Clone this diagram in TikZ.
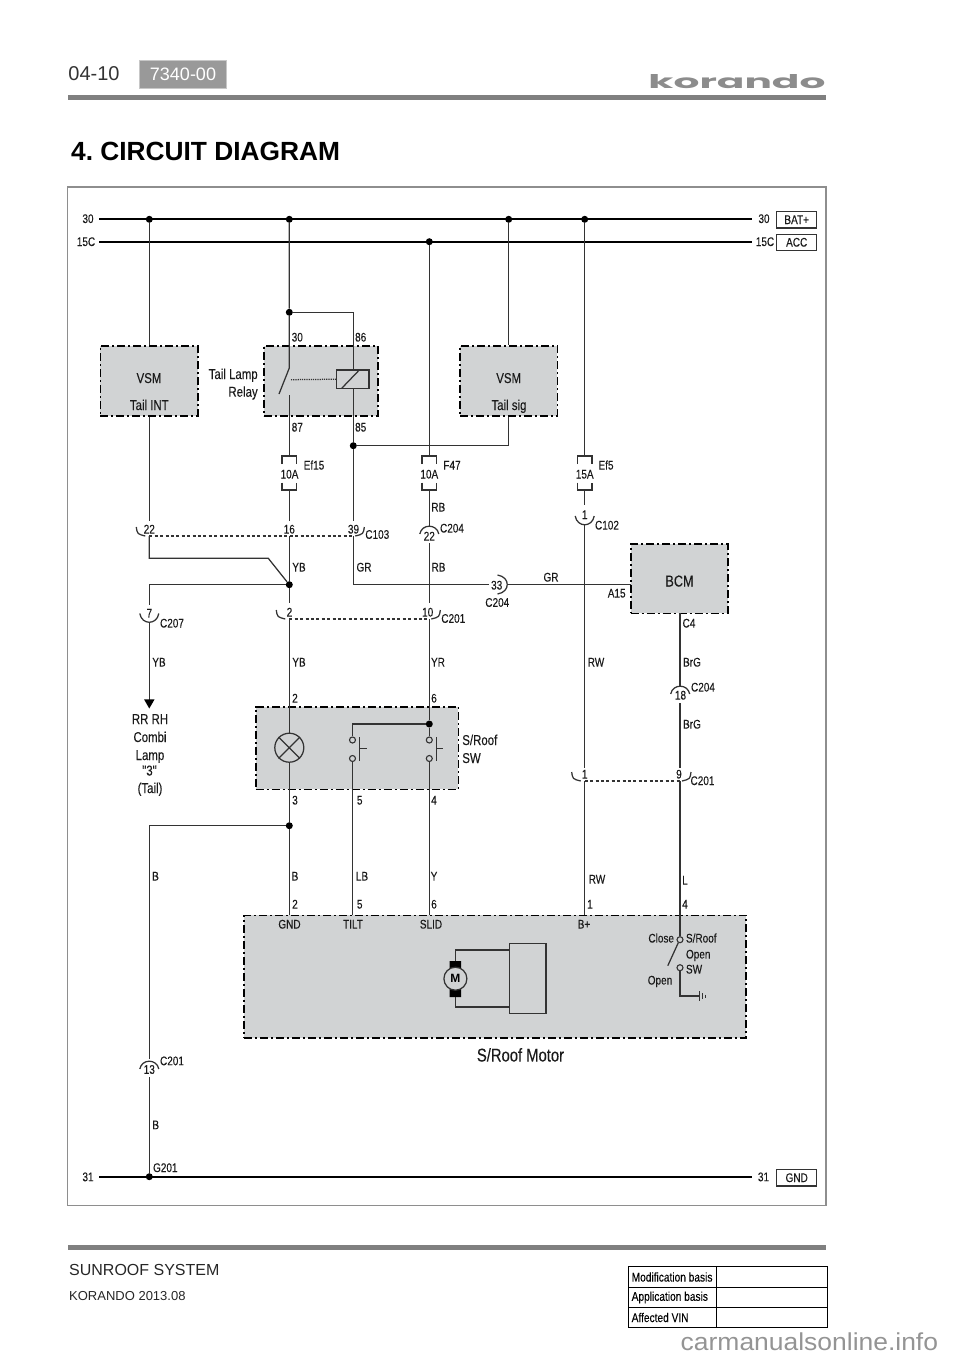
\documentclass[tikz,border=0pt]{standalone}
\usepackage{fontspec}
\usepackage{graphicx}
\setmainfont{Liberation Sans}
\newfontfamily\cf[FakeStretch=0.8,FakeBold=0.12]{Liberation Sans}
\newfontfamily\wf[FakeStretch=1.08]{Liberation Sans}
\newfontfamily\lf{Poppins}
\frenchspacing
\definecolor{modg}{HTML}{D1D3D4}
\definecolor{wirec}{HTML}{333333}
\definecolor{framec}{HTML}{8E8E8E}
\definecolor{rulec}{HTML}{808080}
\definecolor{txtc}{HTML}{1A1A1A}
\newcommand\fsm{\cf\fontsize{12.5}{13}\selectfont}
\newcommand\fmd{\cf\fontsize{14.3}{15}\selectfont}
\newcommand\fbg{\cf\fontsize{15.8}{16}\selectfont}
\newcount\lblno
\newcommand\lb[4][]{\global\advance\lblno by 1\relax
  \node[lbl,#1] (t\the\lblno) at (#2,#3) {#4};}
\newcommand\mdl[4][]{\global\advance\lblno by 1\relax
  \node[lbl,font=\fmd,text height=10pt,#1] (t\the\lblno) at (#2,#3) {#4};}
% full connector cup: x, rim y, depth (negative = opens downward)
\newcommand\conncup[3]{\draw[wire] ({#1-9.5},#2) .. controls ({#1-7.5},{#2+#3*1.3}) and ({#1+7.5},{#2+#3*1.3}) .. ({#1+9.5},#2);}
% quarter arcs of the connector, ending on the dashed line
\newcommand\connl[2]{\draw[wire] ({#1-13},{#2-9}) .. controls ({#1-12},{#2-2}) .. ({#1-4},#2);}
\newcommand\connr[2]{\draw[wire] ({#1+11},{#2-9}) .. controls ({#1+10},{#2-2}) .. ({#1+2},#2);}
\newcommand\fusebr[2]{\draw[wire] ({#1-7.3},464) -- ({#1-7.3},456) -- ({#1+7.3},456) -- ({#1+7.3},464)
   ({#1-7.3},482.7) -- ({#1-7.3},490) -- ({#1+7.3},490) -- ({#1+7.3},482.7);}
\tikzset{
  wire/.style={draw=wirec,line width=1.25pt},
  bus/.style={draw=black,line width=1.9pt},
  dot/.style={circle,fill=black,draw=none,minimum size=7pt,inner sep=0pt},
  module/.style={draw=black,fill=modg,line width=1.6pt,dash pattern=on 8pt off 3pt on 2pt off 3pt,inner sep=0pt},
  lbl/.style={inner sep=0pt,outer sep=0pt,font=\fsm,text=txtc,text height=9pt,text depth=0pt},
  contact/.style={circle,draw=wirec,line width=1.1pt,fill=modg,minimum size=6pt,inner sep=0pt},
  tagbox/.style={draw=wirec,line width=1.1pt,fill=white,inner sep=0pt,font=\fsm,text=txtc,minimum width=40pt,minimum height=16.5pt},
  dashw/.style={draw=wirec,line width=1.1pt,dash pattern=on 3pt off 2.4pt},
}
\begin{document}
\begin{tikzpicture}[x=1pt,y=-1pt]
\useasboundingbox (0,0) rectangle (960,1358);
% ---------- page furniture ----------
\fill[rulec] (68,95) rectangle (826,100);
\fill[rulec] (68,1245) rectangle (826,1250);
\node[inner sep=0pt,anchor=center,font=\fontsize{20}{22}\selectfont,text=black!80] (pageno) at (94,74) {04-10};
\node[draw=black!22,fill=black!40,line width=1pt,minimum width=87pt,minimum height=28pt,inner sep=0pt,text=white,font=\fontsize{18}{20}\selectfont] (code) at (183,74) {7340-00};
\node[inner sep=0pt,text=black!45] (logo) at (737,81.5) {\resizebox{177pt}{14pt}{\lf\bfseries korando}};
\node[inner sep=0pt,anchor=west,font=\bfseries\fontsize{26.3}{28}\selectfont,text=black] (title) at (71,151) {4. CIRCUIT DIAGRAM};
\draw[framec,line width=1.4pt,fill=white] (67.5,187) rectangle (826,1205.7);
\node[inner sep=0pt,anchor=west,font=\fontsize{16}{18}\selectfont,text=black!85] (sys) at (69,1270) {SUNROOF SYSTEM};
\node[inner sep=0pt,anchor=west,font=\fontsize{13}{15}\selectfont,text=black!85] (ver) at (69,1296) {KORANDO 2013.08};
\draw[black,line width=1pt] (628.4,1266.7) rectangle (827,1327.7)
  (628.4,1287.3) -- (827,1287.3) (628.4,1307.3) -- (827,1307.3) (716,1266.7) -- (716,1327.7);
\node[inner sep=0pt,anchor=west,font=\cf\fontsize{12.7}{14}\selectfont,text=black] (tb1) at (631.5,1277) {Modification basis};
\node[inner sep=0pt,anchor=west,font=\cf\fontsize{12.7}{14}\selectfont,text=black] (tb2) at (631.5,1297.5) {Application basis};
\node[inner sep=0pt,anchor=west,font=\cf\fontsize{12.7}{14}\selectfont,text=black] (tb3) at (631.5,1317.5) {Affected VIN};
\node[inner sep=0pt,anchor=west,font=\wf\fontsize{24.5}{26}\selectfont,text=black!42] (wm) at (680.5,1342) {carmanualsonline.info};
% ---------- modules ----------
\node[module,minimum width=97.4pt,minimum height=70pt] (vsmA) at (149,381) {};
\node[module,minimum width=114pt,minimum height=70pt] (relay) at (321,381) {};
\node[module,minimum width=97.4pt,minimum height=70pt] (vsmB) at (508.7,381) {};
\node[module,minimum width=97pt,minimum height=69.3pt] (bcm) at (679.2,578.7) {};
\node[module,minimum width=202.6pt,minimum height=82.6pt] (srsw) at (357,748) {};
\node[module,minimum width=502pt,minimum height=122.6pt] (motorbox) at (495,976.7) {};
% ---------- named points ----------
\coordinate (b30L) at (99,219.3); \coordinate (b30R) at (751.7,219.3);
\coordinate (b15L) at (99,241.7); \coordinate (b15R) at (751.7,241.7);
\coordinate (b31L) at (99,1176.7); \coordinate (b31R) at (751.7,1176.7);
\node[dot] (d1) at (149.3,219.3) {};
\node[dot] (d2) at (289.3,219.3) {};
\node[dot] (d3) at (508.7,219.3) {};
\node[dot] (d4) at (584.7,219.3) {};
\node[dot] (d5) at (429.3,241.7) {};
\node[dot] (d6) at (289.3,312.3) {};
\node[dot] (d7) at (353.3,445.7) {};
\node[dot] (d8) at (289.3,584.7) {};
\node[dot] (d9) at (429.3,724) {};
\node[dot] (d10) at (289.3,825.7) {};
\node[dot] (d11) at (149.3,1176.7) {};
% ---------- buses ----------
\draw[bus] (b30L) -- (b30R);
\draw[bus] (b15L) -- (b15R);
\draw[bus] (b31L) -- (b31R);
% ---------- relay internals ----------
\node[draw=wirec,line width=1.25pt,fill=modg,minimum width=32.3pt,minimum height=18.3pt,inner sep=0pt] (coil) at (352.8,379.2) {};
\draw[wire] (341.7,388.3) -- (359.3,370);
\coordinate (swT) at (289.3,368); \coordinate (swB) at (279,394); \coordinate (sw87) at (289.3,395);
\draw[wire,dash pattern=on 1.2pt off 1pt] (291,379.7) -- (coil.west);
% ---------- lamp + sw ----------
\node[circle,draw=wirec,line width=1.25pt,fill=modg,minimum size=29pt,inner sep=0pt] (lamp) at (289.3,747.7) {};
\draw[wire] (lamp.45) -- (lamp.225) (lamp.135) -- (lamp.315);
\node[contact] (s1a) at (352.5,740) {};
\node[contact] (s1b) at (352.5,758.5) {};
\node[contact] (s2a) at (429.3,740) {};
\node[contact] (s2b) at (429.3,758.5) {};
\draw[wire] (359.3,737.3) -- (359.3,760.7) (359.3,748.3) -- (366.7,748.3);
\draw[wire] (436.3,737.3) -- (436.3,760.7) (436.3,748.3) -- (443.3,748.3);
% ---------- motor internals ----------
\node[draw=wirec,line width=1.25pt,fill=modg,minimum width=36.6pt,minimum height=70pt,inner sep=0pt] (gear) at (527.7,978.7) {};
\fill[black] (449.6,961) rectangle (461.2,971.7) (449.6,988.3) rectangle (461.2,997);
\draw[wire] (455.4,961) -- (455.4,950) -- (gear.west |- 0,950);
\draw[wire] (455.4,997) -- (455.4,1007) -- (gear.west |- 0,1007);
\node[circle,draw=wirec,line width=1.25pt,fill=modg,minimum size=23pt,inner sep=0pt,font=\bfseries\fontsize{12}{12}\selectfont,text=black] (motor) at (455.4,978.7) {M};
\node[contact] (s3a) at (680,939.7) {};
\node[contact] (s3b) at (680,967.7) {};
\draw[wire] (678.3,942.7) -- (667.8,965.7);
\draw[wire] (s3b) -- (680,996) -- (699,996);
\draw[wire,line width=.8pt] (699,991) -- (699,1001) (702,993) -- (702,999);
\draw[wire,line width=.5pt] (705,994.5) -- (705,997.5);
% ---------- fuses ----------
\fusebr{289.3}{10A}
\fusebr{429.3}{10A}
\fusebr{584.7}{15A}
\coordinate (f1t) at (289.3,456); \coordinate (f1b) at (289.3,490);
\coordinate (f2t) at (429.3,456); \coordinate (f2b) at (429.3,490);
\coordinate (f3t) at (584.7,456); \coordinate (f3b) at (584.7,490);
% ---------- wires ----------
\draw[wire] (d1) -- (vsmA.north -| d1);
\draw[wire] (vsmA.south -| d1) -- (149.3,521);
\draw[wire] (149.3,536) -- (149.3,558.3) -- (268.3,558.3) -- (d8);
\draw[wire] (d8) -- (149.3,584.7) -- (149.3,605);
\draw[wire] (149.3,623) -- (149.3,700);
\fill[black] (144,699.3) -- (154.6,699.3) -- (149.3,708.5) -- cycle;
\draw[wire] (d2) -- (d6) -- (swT) -- (swB);
\draw[wire] (sw87) -- (f1t);
\draw[wire] (f1b) -- (289.3,521);
\draw[wire] (289.3,536) -- (d8) -- (289.3,603);
\draw[wire] (289.3,619) -- (lamp);
\draw[wire] (lamp) -- (d10) -- (289.3,915.4);
\draw[wire] (d10) -- (149.3,825.7) -- (149.3,1059);
\draw[wire] (149.3,1077) -- (d11);
\draw[wire] (d6) -- (353.3,312.3) -- (coil.north -| d7);
\draw[wire] (coil.south -| d7) -- (d7) -- (353.3,521);
\draw[wire] (353.3,536) -- (353.3,584.7) -- (489,584.7);
\draw[wire] (507.7,584.7) -- (630.7,584.7);
\draw[wire] (d7) -- (508.7,445.7) -- (vsmB.south);
\draw[wire] (d3) -- (vsmB.north);
\draw[wire] (d5) -- (f2t);
\draw[wire] (f2b) -- (429.3,526);
\draw[wire] (429.3,543) -- (429.3,603);
\draw[wire] (429.3,619) -- (d9) -- (s2a);
\draw[wire] (d9) -- (352.5,724) -- (s1a);
\draw[wire] (s1b) -- (352.5,915.4);
\draw[wire] (s2b) -- (429.3,915.4);
\draw[wire] (d4) -- (f3t);
\draw[wire] (f3b) -- (584.7,505);
\draw[wire] (584.7,525) -- (584.7,768);
\draw[wire] (584.7,781) -- (584.7,915.4);
\draw[wire] (680,613.4) -- (680,686);
\draw[wire] (680,703) -- (680,768);
\draw[wire] (680,781) -- (s3a);
% dashed tie lines
\draw[dashw] (149.3,536) -- (353.3,536);
\draw[dashw] (289.3,619) -- (429.3,619);
\draw[dashw] (584.7,781) -- (680,781);
% connector arcs
\connl{149.3}{536} \connr{353.3}{536}
\connl{289.3}{619} \connr{429.3}{619}
\connl{584.7}{781} \connr{680}{781}
\conncup{149.3}{613.5}{9}
\conncup{584.7}{516}{9}
\conncup{429.3}{534}{-8}
\conncup{680.2}{694}{-8}
\conncup{149.3}{1069}{-8}
\draw[wire] (497.5,575) .. controls (510.5,577) and (510.5,592) .. (497.5,594);
% ---------- tags ----------
\node[tagbox] (bat) at (796.7,219.7) {BAT+};
\node[tagbox] (acc) at (796.7,242.3) {ACC};
\node[tagbox] (gnd) at (796.7,1177.7) {GND};
% ---------- labels ----------
\lb{88}{218.5}{30} \lb{86}{241.5}{15C} \lb{764}{218.5}{30} \lb{765}{241.5}{15C}
\lb{88}{1176.7}{31} \lb{763.5}{1176.7}{31}
\mdl{149}{378}{VSM} \mdl{149.3}{405}{Tail INT}
\mdl{508.7}{378}{VSM} \mdl{509}{405}{Tail sig}
\mdl[anchor=east]{257.7}{374}{Tail Lamp} \mdl[anchor=east]{257.7}{391.7}{Relay}
\lb{297.3}{337}{30} \lb{360.7}{337}{86} \lb{297.3}{427}{87} \lb{360.7}{427}{85}
\lb{289.5}{474}{10A} \lb{429.3}{474}{10A} \lb{584.7}{474}{15A}
\lb{314}{465}{Ef15} \lb{452}{465}{F47} \lb{606}{465}{Ef5}
\lb{438.3}{507}{RB}
\lb{584.7}{514.5}{1} \lb{607}{525}{C102}
\lb{149.3}{529}{22} \lb{289.3}{529}{16} \lb{353.5}{529}{39} \lb{377.3}{534.3}{C103}
\lb{429.3}{536}{22} \lb{452}{528}{C204}
\lb{299}{567}{YB} \lb{364}{567}{GR} \lb{438.5}{567}{RB}
\lb{551}{577}{GR} \lb{496.7}{585}{33} \lb{497.3}{602.3}{C204} \lb{616.7}{593}{A15}
\lb{689}{623}{C4}
\lb{149.3}{613}{7} \lb{172}{623}{C207}
\lb{289.5}{612}{2} \lb{427.7}{612}{10} \lb{453.3}{618.3}{C201}
\lb{159}{662}{YB} \lb{299}{662}{YB} \lb{438}{662}{YR} \lb{596}{662}{RW} \lb{692}{662}{BrG}
\lb{680.5}{695}{18} \lb{703}{687}{C204} \lb{692}{724}{BrG}
\lb{295}{698}{2} \lb{434}{698}{6}
\mdl{150}{719}{RR RH} \mdl{150}{737}{Combi} \mdl{150}{755}{Lamp} \mdl{149.5}{770.5}{"3"} \mdl{150}{788}{(Tail)}
\mdl[anchor=west]{462.3}{740}{S/Roof} \mdl[anchor=west]{462.3}{758}{SW}
\lb{584.7}{774}{1} \lb{679}{774}{9} \lb{702.5}{780.5}{C201}
\lb{295}{800}{3} \lb{359.7}{800}{5} \lb{434}{800}{4}
\lb{155.5}{876}{B} \lb{295}{876}{B} \lb{362}{876}{LB} \lb{434}{876}{Y} \lb{597}{879}{RW} \lb{685}{880}{L}
\lb{295}{904}{2} \lb{359.7}{904}{5} \lb{434}{904}{6} \lb{590}{904}{1} \lb{685}{904}{4}
\lb{289.5}{924}{GND} \lb{353}{924}{TILT} \lb{431}{924}{SLID} \lb{584}{924}{B+}
\lb[anchor=east]{674}{938}{Close} \lb[anchor=west]{686}{938}{S/Roof}
\lb[anchor=west]{686}{954}{Open} \lb[anchor=west]{686}{969}{SW} \lb{660}{980}{Open}
\lb{172}{1060.7}{C201} \lb{149.3}{1069.3}{13} \lb{155.7}{1124.7}{B} \lb{165.3}{1167.5}{G201}
\lb[font=\fbg,text height=11pt]{679.5}{581}{BCM}
\lb[font=\cf\fontsize{18.5}{19}\selectfont,text height=13pt]{520.5}{1055}{S/Roof Motor}
\end{tikzpicture}
\end{document}
